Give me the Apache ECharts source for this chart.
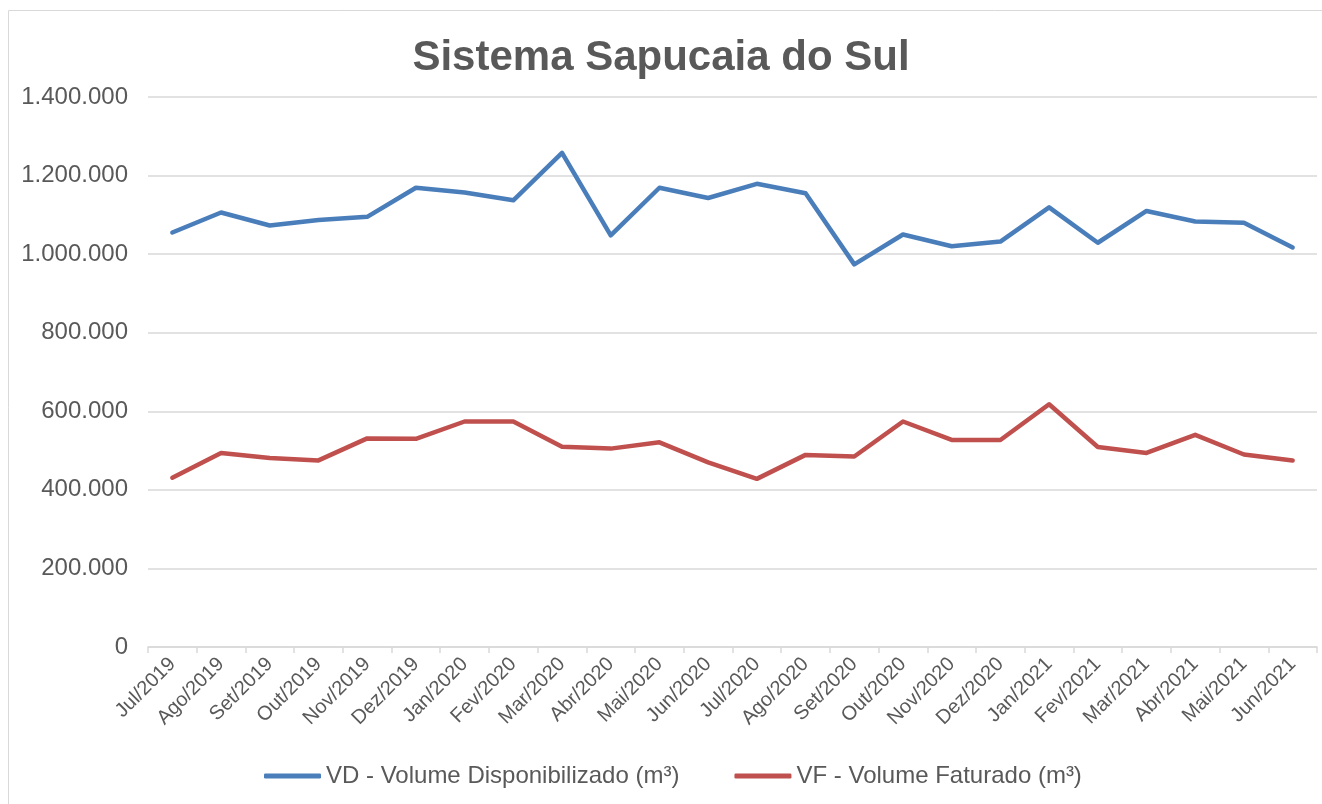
<!DOCTYPE html>
<html>
<head>
<meta charset="utf-8">
<script src="https://cdn.jsdelivr.net/npm/echarts@6/dist/echarts.min.js"></script>
<style>
html,body{margin:0;padding:0;background:#fff;}
#chart{width:1322px;height:804px;}
</style>
</head>
<body>
<div id="chart"></div>
<script>
var categories = ['Jul/2019','Ago/2019','Set/2019','Out/2019','Nov/2019','Dez/2019','Jan/2020','Fev/2020','Mar/2020','Abr/2020','Mai/2020','Jun/2020','Jul/2020','Ago/2020','Set/2020','Out/2020','Nov/2020','Dez/2020','Jan/2021','Fev/2021','Mar/2021','Abr/2021','Mai/2021','Jun/2021'];
var vdValues = [1055000,1106000,1073000,1087000,1095000,1169000,1157000,1137000,1258000,1048000,1169000,1143000,1179000,1155000,974000,1050000,1020000,1032000,1119000,1029000,1110000,1083000,1080000,1017000];
var vfValues = [431000,494000,481000,475000,531000,530000,574000,574000,510000,505000,521000,470000,428000,489000,485000,574000,527000,527000,618000,509000,494000,540000,490000,475000];
var seriesNames = ['VD - Volume Disponibilizado (m³)','VF - Volume Faturado (m³)'];
var titleText = 'Sistema Sapucaia do Sul';

function fmt(v){ return String(v).replace(/\B(?=(\d{3})+(?!\d))/g, '.'); }

var chart = echarts.init(document.getElementById('chart'));
var font = '"Liberation Sans", Arial, sans-serif';
chart.setOption({
  animation: false,
  textStyle: {fontFamily: font},
  title: {
    text: titleText, left: 'center', top: 32,
    textStyle: {fontFamily: font, fontSize: 42, fontWeight: 'bold', color: '#595959'}
  },
  graphic: [{
    type: 'rect', shape: {x: 8.5, y: 10.5, width: 1330, height: 810},
    style: {fill: 'none', stroke: '#d9d9d9', lineWidth: 1}, silent: true
  }],
  legend: {
    bottom: 11, left: 259, itemWidth: 57, itemHeight: 5, itemGap: 55,
    icon: 'roundRect',
    textStyle: {fontFamily: font, fontSize: 24, color: '#595959'},
    data: seriesNames
  },
  grid: {left: 148, right: 5, top: 97, bottom: 157, containLabel: false},
  xAxis: {
    type: 'category', data: categories, boundaryGap: true,
    axisLine: {lineStyle: {color: '#d9d9d9', width: 1.5}},
    axisTick: {show: true, length: 6, lineStyle: {color: '#d9d9d9', width: 1.5}},
    axisLabel: {rotate: 45, interval: 0, margin: 14, fontFamily: font, fontSize: 20, color: '#595959'}
  },
  yAxis: {
    type: 'value', min: 0, max: 1400000, interval: 200000,
    axisLine: {show: false}, axisTick: {show: false},
    splitLine: {lineStyle: {color: '#d9d9d9', width: 1.5}},
    axisLabel: {formatter: fmt, margin: 20, fontFamily: font, fontSize: 24, color: '#595959'}
  },
  series: [
    {name: seriesNames[0], type: 'line', data: vdValues, symbol: 'none', smooth: false,
     lineStyle: {color: '#4A7EBB', width: 4.5, cap: 'round', join: 'round'}, itemStyle: {color: '#4A7EBB'}},
    {name: seriesNames[1], type: 'line', data: vfValues, symbol: 'none', smooth: false,
     lineStyle: {color: '#C0504D', width: 4.5, cap: 'round', join: 'round'}, itemStyle: {color: '#C0504D'}}
  ]
});
</script>
</body>
</html>
